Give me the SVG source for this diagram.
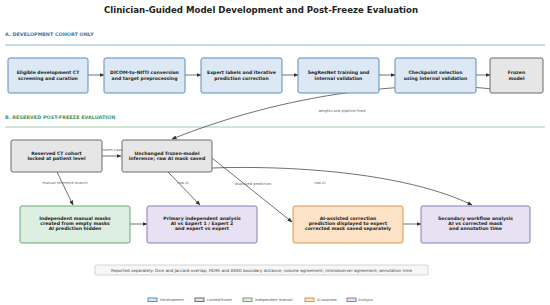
<svg xmlns="http://www.w3.org/2000/svg" width="550" height="305" viewBox="0 0 550 305">
<style>
text{font-family:"DejaVu Sans","Liberation Sans",sans-serif;}
.t{font-size:8.6px;font-weight:bold;fill:#222;text-anchor:middle;}
.sec{font-size:4.9px;font-weight:bold;}
.n{font-size:4.6px;font-weight:bold;fill:#222;text-anchor:middle;}
.el{font-size:3.6px;fill:#666;text-anchor:middle;}
.dev{fill:#dce9f5;stroke:#5b8db8;stroke-width:1;}
.lock{fill:#e6e6e6;stroke:#6a6a6a;stroke-width:1;}
.ind{fill:#dcefe0;stroke:#6aa57a;stroke-width:1;}
.ai{fill:#fce3c8;stroke:#d9964e;stroke-width:1;}
.an{fill:#e7e1f3;stroke:#8f7ab5;stroke-width:1;}
.e{fill:none;stroke:#333;stroke-width:0.7;marker-end:url(#ah);}
.lg{font-size:3.6px;fill:#555;}
</style>
<defs>
<marker id="ah" viewBox="0 0 10 10" refX="9" refY="5" markerWidth="5" markerHeight="5" orient="auto" markerUnits="userSpaceOnUse">
<path d="M0,1 L10,5 L0,9 z" fill="#333"/>
</marker>
</defs>
<rect width="550" height="305" fill="#fff"/>
<text class="t" x="261" y="13">Clinician-Guided Model Development and Post-Freeze Evaluation</text>
<text class="sec" x="5" y="36" fill="#3f78a8">A. DEVELOPMENT COHORT ONLY</text>
<line x1="5" y1="45" x2="545" y2="45" stroke="#7aa3c6" stroke-width="0.8"/>
<text class="sec" x="5" y="119" fill="#4f9460">B. RESERVED POST-FREEZE EVALUATION</text>
<line x1="5" y1="127" x2="545" y2="127" stroke="#8fbf98" stroke-width="0.8"/>

<g id="edges">
<line class="e" x1="88" y1="75" x2="104" y2="75"/>
<line class="e" x1="185" y1="75" x2="201" y2="75"/>
<line class="e" x1="282" y1="75" x2="298" y2="75"/>
<line class="e" x1="379" y1="75" x2="395" y2="75"/>
<line class="e" x1="476" y1="75" x2="490" y2="75"/>
<path class="e" d="M515,92 C430,78 300,88 172,139"/>
<line class="e" x1="102" y1="156" x2="121" y2="156"/>
<path class="e" d="M57,172 L73,205"/>
<path class="e" d="M168,172 L200,205"/>
<path class="e" d="M212,158 L292,222"/>
<path class="e" d="M168,172 C200,165 380,160 472,205"/>
<line class="e" x1="130" y1="224" x2="147" y2="224"/>
<line class="e" x1="403" y1="224" x2="421" y2="224"/>
<text class="el" x="342" y="112">weights and pipeline fixed</text>
<text class="el" x="112" y="150.5">unseen cases</text>
<text class="el" x="65" y="184">manual reference branch</text>
<text class="el" x="183" y="184">raw AI</text>
<text class="el" x="253" y="185">displayed prediction</text>
<text class="el" x="320" y="184">raw AI</text>
</g>

<g id="n1"><rect class="dev" x="8" y="58" width="80" height="35" rx="2"/><text class="n" x="48" y="74">Eligible development CT</text><text class="n" x="48" y="79.5">screening and curation</text></g>
<g id="n2"><rect class="dev" x="104" y="58" width="81" height="35" rx="2"/><text class="n" x="144.5" y="74">DICOM-to-NIfTI conversion</text><text class="n" x="144.5" y="79.5">and target preprocessing</text></g>
<g id="n3"><rect class="dev" x="201" y="58" width="81" height="35" rx="2"/><text class="n" x="241.5" y="74">Expert labels and iterative</text><text class="n" x="241.5" y="79.5">prediction correction</text></g>
<g id="n4"><rect class="dev" x="298" y="58" width="81" height="35" rx="2"/><text class="n" x="338.5" y="74">SegResNet training and</text><text class="n" x="338.5" y="79.5">internal validation</text></g>
<g id="n5"><rect class="dev" x="395" y="58" width="81" height="35" rx="2"/><text class="n" x="435.5" y="74">Checkpoint selection</text><text class="n" x="435.5" y="79.5">using internal validation</text></g>
<g id="n6"><rect class="lock" x="490" y="58" width="53" height="35" rx="2"/><text class="n" x="516.5" y="74">Frozen</text><text class="n" x="516.5" y="79.5">model</text></g>

<g id="n7"><rect class="lock" x="11" y="140" width="91" height="32" rx="2"/><text class="n" x="56.5" y="154.5">Reserved CT cohort</text><text class="n" x="56.5" y="160">locked at patient level</text></g>
<g id="n8"><rect class="lock" x="122" y="140" width="90" height="32" rx="2"/><text class="n" x="167" y="154.5">Unchanged frozen-model</text><text class="n" x="167" y="160">inference; raw AI mask saved</text></g>

<g id="n9"><rect class="ind" x="20" y="206" width="110" height="37" rx="2"/><text class="n" x="75" y="220">Independent manual masks</text><text class="n" x="75" y="225">created from empty masks</text><text class="n" x="75" y="230">AI prediction hidden</text></g>
<g id="n10"><rect class="an" x="147" y="206" width="110" height="37" rx="2"/><text class="n" x="202" y="220">Primary independent analysis</text><text class="n" x="202" y="225">AI vs Expert 1 / Expert 2</text><text class="n" x="202" y="230">and expert vs expert</text></g>
<g id="n11"><rect class="ai" x="293" y="206" width="110" height="37" rx="2"/><text class="n" x="348" y="220">AI-assisted correction</text><text class="n" x="348" y="225">prediction displayed to expert</text><text class="n" x="348" y="230">corrected mask saved separately</text></g>
<g id="n12"><rect class="an" x="421" y="206" width="109" height="37" rx="2"/><text class="n" x="475.5" y="220">Secondary workflow analysis</text><text class="n" x="475.5" y="225">AI vs corrected mask</text><text class="n" x="475.5" y="230">and annotation time</text></g>

<g id="note"><rect x="95" y="265" width="333" height="10" fill="#f7f7f7" stroke="#bbb" stroke-width="0.6" rx="1"/><text x="261.5" y="271.5" font-size="4.1px" fill="#444" text-anchor="middle">Reported separately: Dice and Jaccard overlap; HD95 and ASSD boundary distance; volume agreement; interobserver agreement; annotation time</text></g>

<g id="legend">
<rect class="dev" x="148" y="298" width="9" height="3.5" stroke-width="0.6"/><text class="lg" x="160" y="301.3">Development</text>
<rect class="lock" x="195" y="298" width="9" height="3.5" stroke-width="0.6"/><text class="lg" x="207" y="301.3">Locked/frozen</text>
<rect class="ind" x="243" y="298" width="9" height="3.5" stroke-width="0.6"/><text class="lg" x="255" y="301.3">Independent manual</text>
<rect class="ai" x="305" y="298" width="9" height="3.5" stroke-width="0.6"/><text class="lg" x="317" y="301.3">AI-assisted</text>
<rect class="an" x="347" y="298" width="9" height="3.5" stroke-width="0.6"/><text class="lg" x="358" y="301.3">Analysis</text>
</g>
</svg>
